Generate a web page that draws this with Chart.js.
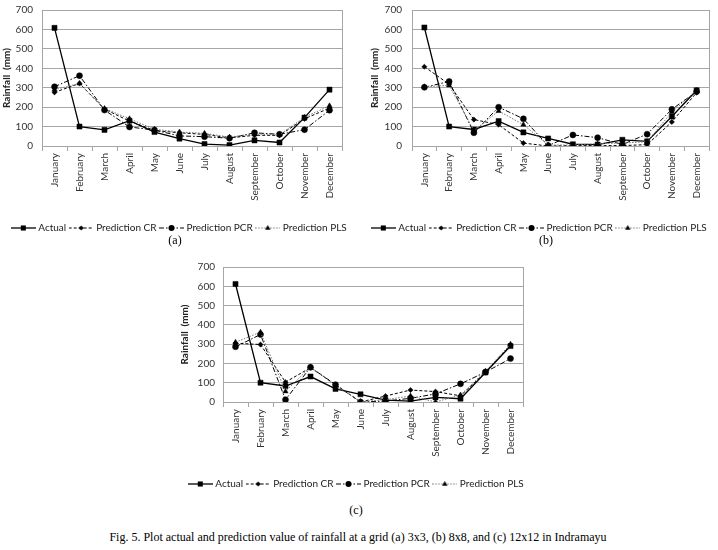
<!DOCTYPE html>
<html>
<head>
<meta charset="utf-8">
<script src="https://cdn.jsdelivr.net/npm/chart.js@4/dist/chart.umd.min.js"></script>
<style>
  html, body { margin: 0; padding: 0; background: #fff; }
  body { width: 718px; height: 550px; position: relative; overflow: hidden; }
  .box { position: absolute; }
  .cap { position: absolute; font-family: "Liberation Serif", "Times New Roman", serif; font-size: 12px; color: #000; white-space: nowrap; transform: translate(-50%, -50%); }
</style>
</head>
<body>
<div class="box" id="wa" style="left:0px;top:0px;width:360px;height:243px;"><canvas id="ca"></canvas></div>
<div class="box" id="wb" style="left:362px;top:0px;width:356px;height:243px;"><canvas id="cb"></canvas></div>
<div class="box" id="wc" style="left:177px;top:257px;width:360px;height:242px;"><canvas id="cc"></canvas></div>
<div class="cap" style="left:175px;top:240px;">(a)</div>
<div class="cap" style="left:546px;top:240px;">(b)</div>
<div class="cap" style="left:356px;top:510px;">(c)</div>
<div class="cap" style="left:358px;top:537px;">Fig. 5. Plot actual and prediction value of rainfall at a grid (a) 3x3, (b) 8x8, and (c) 12x12 in Indramayu</div>
<script>
// ---- data ----
const months = ["January","February","March","April","May","June","July","August","September","October","November","December"];
const seriesNames = ["Actual", "Prediction CR", "Prediction PCR", "Prediction PLS"];
const yTicks = [0, 100, 200, 300, 400, 500, 600, 700];

const aActual = [608, 100, 83, 130, 72, 38, 10, 5, 29, 18, 146, 290];
const aCR     = [276, 322, 190, 128, 80, 68, 60, 42, 55, 55, 140, 195];
const aPCR    = [305, 362, 185, 98, 82, 52, 48, 40, 68, 60, 84, 184];
const aPLS    = [290, 322, 193, 140, 86, 72, 65, 46, 62, 58, 148, 207];

const bActual = [610, 100, 85, 128, 70, 39, 9, 7, 32, 24, 152, 287];
const bCR     = [408, 318, 136, 110, 15, 0, 2, 2, 2, 7, 124, 275];
const bPCR    = [302, 332, 68, 200, 140, 2, 57, 43, 8, 61, 189, 280];
const bPLS    = [305, 312, 80, 180, 110, 5, 5, 12, 15, 22, 175, 286];

const cActual = [612, 100, 83, 132, 68, 40, 10, 5, 24, 17, 153, 290];
const cCR     = [305, 298, 103, 178, 90, 0, 31, 62, 54, 32, 155, 295];
const cPCR    = [286, 350, 12, 180, 90, 0, 5, 19, 42, 94, 155, 225];
const cPLS    = [310, 362, 55, 182, 85, 2, 12, 31, 0, 36, 160, 300];

// ---- styles ----
const styles = [
  { width: 1.3, dash: [], marker: "rect", radius: 3.6, lineColor: "#000" },
  { width: 1, dash: [3, 2], marker: "rectRot", radius: 2.6, lineColor: "#000" },
  { width: 1, dash: [5, 2, 1.5, 2], marker: "circle", radius: 3, lineColor: "#000" },
  { width: 1, dash: [1.5, 1.5], marker: "triangle", radius: 3, lineColor: "#777" }
];

const LEG_W = 25;
function legendImage(st) {
  const c = document.createElement("canvas");
  c.width = LEG_W; c.height = 10;
  const g = c.getContext("2d");
  g.strokeStyle = st.lineColor; g.lineWidth = st.width;
  g.setLineDash(st.dash);
  g.beginPath(); g.moveTo(0, 5); g.lineTo(LEG_W, 5); g.stroke();
  g.setLineDash([]);
  g.fillStyle = "#000";
  const x = LEG_W / 2, y = 5, r = st.radius;
  g.beginPath();
  if (st.marker === "rect") { const s = r * Math.SQRT1_2; g.rect(x - s, y - s, 2 * s, 2 * s); }
  else if (st.marker === "rectRot") { g.moveTo(x, y - r); g.lineTo(x + r, y); g.lineTo(x, y + r); g.lineTo(x - r, y); g.closePath(); }
  else if (st.marker === "circle") { g.arc(x, y, r, 0, Math.PI * 2); }
  else { g.moveTo(x, y - r); g.lineTo(x + r * 0.9, y + r * 0.6); g.lineTo(x - r * 0.9, y + r * 0.6); g.closePath(); }
  g.fill();
  return c;
}
const legendImgs = styles.map(legendImage);

const borderPlugin = {
  id: "plotBorder",
  beforeDatasetsDraw(chart) {
    const a = chart.chartArea, g = chart.ctx;
    g.save();
    g.strokeStyle = "#a6a6a6"; g.lineWidth = 1;
    g.strokeRect(Math.round(a.left) + 0.5, Math.round(a.top) + 0.5, Math.round(a.right - a.left), Math.round(a.bottom - a.top));
    g.restore();
  }
};

const FONT = "Lato, 'Open Sans', 'Liberation Sans', sans-serif";

function makeChart(id, series, cfg) {
  const datasets = series.map((d, i) => ({
    label: seriesNames[i],
    data: d,
    yAxisID: "y",
    borderColor: styles[i].lineColor,
    borderWidth: styles[i].width,
    borderDash: styles[i].dash,
    backgroundColor: "#000",
    pointBackgroundColor: "#000",
    pointBorderColor: "#000",
    pointBorderWidth: 0.5,
    pointStyle: styles[i].marker,
    pointRadius: styles[i].radius,
    tension: 0,
    fill: false
  }));
  return new Chart(document.getElementById(id), {
    type: "line",
    data: { labels: months, datasets: datasets.slice().reverse() },
    plugins: [borderPlugin],
    options: {
      responsive: true,
      maintainAspectRatio: false,
      animation: false,
      devicePixelRatio: 1,
      layout: { padding: { top: cfg.padTop, right: 0, left: 0, bottom: 0 } },
      plugins: {
        tooltip: { enabled: false },
        legend: {
          display: true,
          position: "bottom",
          reverse: true,
          labels: {
            font: { family: FONT, size: 10 },
            color: "#222",
            usePointStyle: true,
            pointStyleWidth: 20,
            padding: 5,
            generateLabels(chart) {
              const items = Chart.defaults.plugins.legend.labels.generateLabels(chart);
              items.forEach((it) => { it.pointStyle = legendImgs[seriesNames.indexOf(it.text)]; });
              return items;
            }
          }
        }
      },
      scales: {
        x: {
          type: "category",
          offset: true,
          afterFit(s) { s.height = cfg.xH; s.paddingLeft = 0; s.paddingRight = 0; },
          grid: { display: true, offset: true, drawOnChartArea: false, drawTicks: true, tickLength: 5, color: "#a6a6a6" },
          border: { display: true, color: "#a6a6a6" },
          ticks: { autoSkip: false, minRotation: 90, maxRotation: 90, padding: 2, color: "#333", font: { family: FONT, size: 10 } }
        },
        y: {
          position: "left",
          min: 0, max: 700,
          afterFit(s) { s.width = cfg.yW; s.paddingTop = 0; s.paddingBottom = 0; },
          afterBuildTicks(s) { s.ticks = yTicks.map((v) => ({ value: v })); },
          grid: { color: "#a6a6a6", drawTicks: false },
          border: { display: true, color: "#a6a6a6" },
          ticks: { padding: cfg.tickPad, color: "#333", font: { family: FONT, size: 10 } },
          title: { display: true, text: "Rainfall  (mm)", color: "#222", font: { family: FONT, size: 10, weight: "bold" }, padding: { top: cfg.titlePad, bottom: 0 } }
        },
        yr: {
          position: "right",
          display: true,
          min: 0, max: 700,
          afterFit(s) { s.width = cfg.rightW; s.paddingTop = 0; s.paddingBottom = 0; },
          grid: { display: false, drawTicks: false },
          border: { display: false },
          ticks: { display: false }
        }
      }
    }
  });
}

makeChart("ca", [aActual, aCR, aPCR, aPLS], { padTop: 10, yW: 42, xH: 72, rightW: 18, tickPad: 9, titlePad: 1 });
makeChart("cb", [bActual, bCR, bPCR, bPLS], { padTop: 10, yW: 50, xH: 72, rightW: 9, tickPad: 10, titlePad: 7 });
makeChart("cc", [cActual, cCR, cPCR, cPLS], { padTop: 10, yW: 46, xH: 72, rightW: 14, tickPad: 8, titlePad: 2 });
</script>
</body>
</html>
